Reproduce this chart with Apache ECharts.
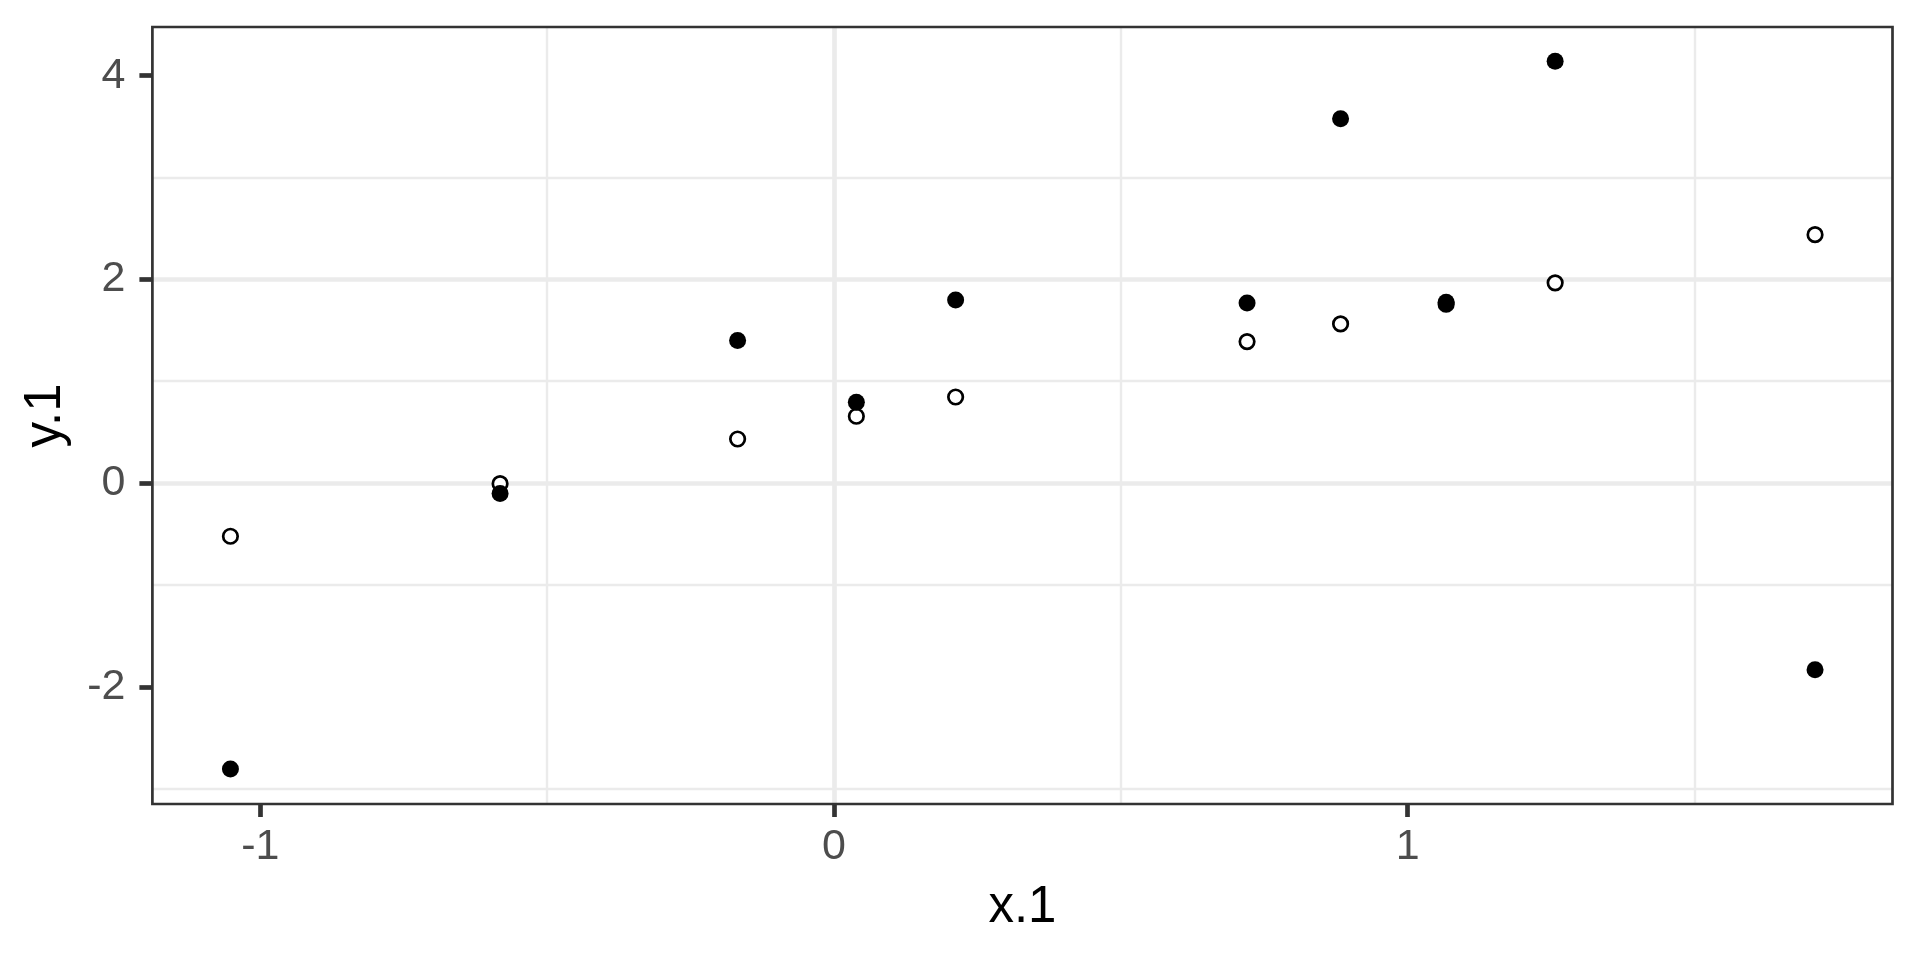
<!DOCTYPE html>
<html>
<head>
<meta charset="utf-8">
<script src="https://cdn.jsdelivr.net/npm/echarts@6/dist/echarts.min.js"></script>
<style>
html,body{margin:0;padding:0;background:#fff;}
#chart{width:1920px;height:960px;}
</style>
</head>
<body>
<div id="chart"></div>
<script>
// Data
var xValues = [-1.052, -0.582, -0.168, 0.039, 0.212, 0.720, 0.883, 1.067, 1.257, 1.710];
var yFilled = [-2.807, -0.102, 1.401, 0.794, 1.798, 1.767, 3.577, 1.775, 4.142, -1.833];
var yOpen   = [-0.522, -0.006, 0.433, 0.656, 0.845, 1.389, 1.563, 1.757, 1.966, 2.439];
var xTicks = [-1, 0, 1];
var yTicks = [-2, 0, 2, 4];
var xRange = [-1.188, 1.845];
var yRange = [-3.151, 4.478];
var xTitle = 'x.1';
var yTitle = 'y.1';

function pairs(xs, ys) {
  return xs.map(function (x, i) { return [x, ys[i]]; });
}

var FONT = '"Liberation Sans", Arial, sans-serif';
var chart = echarts.init(document.getElementById('chart'));

function axisCommon(ticks) {
  return {
    type: 'value',
    axisLine: { show: false, onZero: false },
    axisTick: {
      show: true, customValues: ticks, length: 13,
      lineStyle: { color: '#333333', width: 4.7 }
    },
    axisLabel: {
      customValues: ticks, color: '#4D4D4D', fontSize: 43, fontFamily: FONT
    },
    splitLine: {
      show: true, showMinLine: false, showMaxLine: false,
      lineStyle: { color: '#EBEBEB', width: 4.7 }
    },
    minorTick: { show: false, splitNumber: 2 },
    minorSplitLine: { show: true, lineStyle: { color: '#EBEBEB', width: 2.4 } },
    nameLocation: 'middle',
    nameTextStyle: { color: '#000000', fontSize: 51, fontFamily: FONT }
  };
}

var xAxis = axisCommon(xTicks);
xAxis.min = xRange[0]; xAxis.max = xRange[1]; xAxis.splitNumber = 3;
xAxis.name = xTitle; xAxis.nameGap = 78;
xAxis.axisLabel.margin = 22;

var yAxis = axisCommon(yTicks);
yAxis.min = yRange[0]; yAxis.max = yRange[1]; yAxis.splitNumber = 4;
yAxis.name = yTitle; yAxis.nameGap = 81;
yAxis.axisLabel.margin = 27;

chart.setOption({
  animation: false,
  backgroundColor: '#ffffff',
  grid: {
    left: 152.4, right: 27.5, top: 27, bottom: 156,
    show: true, z: 3, backgroundColor: 'transparent',
    borderColor: '#333333', borderWidth: 2.7
  },
  xAxis: xAxis,
  yAxis: yAxis,
  series: [
    {
      type: 'scatter', name: 'open', data: pairs(xValues, yOpen),
      symbol: 'circle', symbolSize: 14.5,
      itemStyle: { color: '#ffffff', borderColor: '#000000', borderWidth: 2.7, opacity: 1 }
    },
    {
      type: 'scatter', name: 'filled', data: pairs(xValues, yFilled),
      symbol: 'circle', symbolSize: 17,
      itemStyle: { color: '#000000', opacity: 1 }
    }
  ]
});
</script>
</body>
</html>
